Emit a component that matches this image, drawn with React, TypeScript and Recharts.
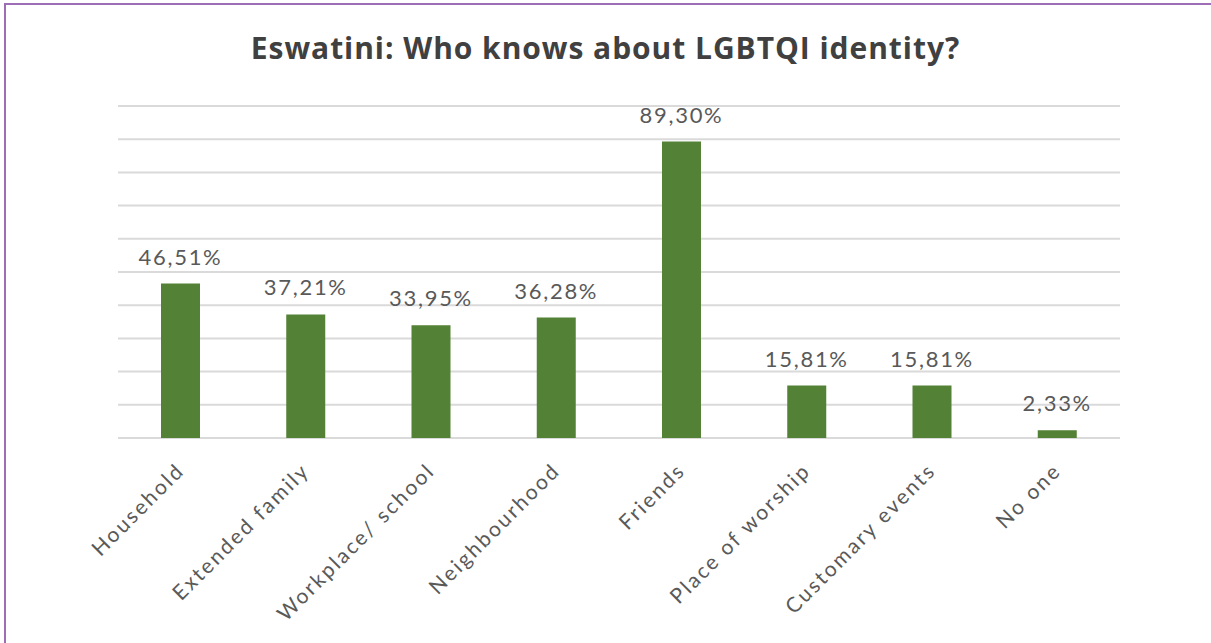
import React from 'react';
import { BarChart, Bar, XAxis, YAxis, CartesianGrid, LabelList } from 'recharts';

const categories = [
  'Household',
  'Extended family',
  'Workplace/ school',
  'Neighbourhood',
  'Friends',
  'Place of worship',
  'Customary events',
  'No one',
];
const shares = [46.51, 37.21, 33.95, 36.28, 89.3, 15.81, 15.81, 2.33];
const yTicks = [0, 10, 20, 30, 40, 50, 60, 70, 80, 90, 100];
const title = 'Eswatini: Who knows about LGBTQI identity?';

const data = categories.map((c, i) => ({ category: c, share: shares[i] }));

const fmt = (v: number) => v.toFixed(2).replace('.', ',') + '%';

const XTick = (props: any) => {
  const { x, y, payload } = props;
  return (
    <g transform={`translate(${x + 5},${y + 34})`}>
      <text
        x={0}
        y={0}
        transform="rotate(-45)"
        textAnchor="end"
        fill="#595959"
        fontFamily="Lato"
        fontSize={21}
        letterSpacing={2.3}
      >
        {payload.value}
      </text>
    </g>
  );
};

const ValueLabel = (props: any) => {
  const { x, y, width, value } = props;
  return (
    <text
      x={x + width / 2}
      y={y - 19}
      textAnchor="middle"
      fill="#595959"
      fontFamily="Lato"
      fontSize={22}
      letterSpacing={1.7}
    >
      {fmt(value)}
    </text>
  );
};

export default function App() {
  return (
    <div style={{ position: 'absolute', left: 0, top: 0, width: 1211, height: 643, background: '#fff', overflow: 'hidden' }}>
      <div
        style={{
          position: 'absolute',
          left: 4,
          top: 3,
          right: 0,
          bottom: 0,
          borderTop: '2px solid #9d6db5',
          borderLeft: '2px solid #9d6db5',
        }}
      />
      <div
        style={{
          position: 'absolute',
          left: 0,
          width: 1211,
          top: 28,
          textAlign: 'center',
          fontFamily: 'Open Sans',
          fontWeight: 700,
          fontSize: 30,
          letterSpacing: 0.95,
          color: '#404040',
          lineHeight: '40px',
        }}
      >
        {title}
      </div>
      <div style={{ position: 'absolute', left: 0, top: 0 }}>
        <BarChart
          width={1211}
          height={643}
          data={data}
          margin={{ top: 106, right: 91, bottom: 175, left: 118 }}
          barCategoryGap={0}
        >
          <CartesianGrid vertical={false} stroke="#dadada" strokeWidth={2} />
          <YAxis hide domain={[0, 100]} ticks={yTicks} />
          <XAxis
            dataKey="category"
            height={30}
            axisLine={false}
            tickLine={false}
            tickSize={0}
            tickMargin={0}
            interval={0}
            tick={<XTick />}
          />
          <Bar dataKey="share" fill="#538135" barSize={39} isAnimationActive={false}>
            <LabelList dataKey="share" content={<ValueLabel />} />
          </Bar>
        </BarChart>
      </div>
    </div>
  );
}
